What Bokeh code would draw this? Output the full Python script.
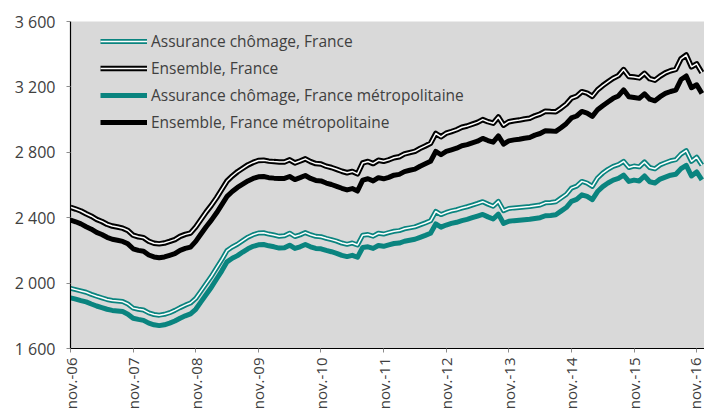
import math
from bokeh.plotting import figure
from bokeh.models import FixedTicker, Range1d, Legend, LegendItem
from bokeh.embed import file_html
from bokeh.resources import INLINE

# Month index: 0 = nov. 2006 ... 121 = dec. 2016
months = list(range(122))

x_ticks = [0, 12, 24, 36, 48, 60, 72, 84, 96, 108, 120]
x_tick_labels = ["nov.-06", "nov.-07", "nov.-08", "nov.-09", "nov.-10", "nov.-11",
                 "nov.-12", "nov.-13", "nov.-14", "nov.-15", "nov.-16"]
y_ticks = [1600, 2000, 2400, 2800, 3200, 3600]
y_tick_labels = ["1 600", "2 000", "2 400", "2 800", "3 200", "3 600"]

series_labels = ["Assurance chômage, France", "Ensemble, France",
                 "Assurance chômage, France métropolitaine", "Ensemble, France métropolitaine"]

ens_france = [2464, 2453, 2441, 2424, 2409, 2390, 2377, 2360, 2349, 2343, 2336, 2322,
              2293, 2283, 2278, 2256, 2244, 2240, 2245, 2255, 2266, 2286, 2298, 2306,
              2343, 2389, 2435, 2476, 2522, 2573, 2624, 2655, 2681, 2702, 2723, 2738,
              2750, 2752, 2746, 2743, 2741, 2741, 2754, 2735, 2747, 2760, 2743, 2731,
              2728, 2715, 2707, 2696, 2684, 2675, 2683, 2668, 2735, 2744, 2731, 2751,
              2745, 2754, 2767, 2773, 2790, 2798, 2806, 2824, 2839, 2855, 2915, 2895,
              2917, 2927, 2938, 2953, 2961, 2972, 2983, 3000, 2987, 2978, 3016, 2966,
              2987, 2993, 2997, 3004, 3008, 3023, 3034, 3051, 3049, 3048, 3070, 3095,
              3131, 3143, 3171, 3162, 3142, 3182, 3208, 3231, 3253, 3269, 3306, 3264,
              3260, 3255, 3283, 3250, 3241, 3266, 3286, 3299, 3307, 3372, 3395, 3323,
              3341, 3288]

ens_metro = [2386, 2375, 2362, 2345, 2330, 2310, 2297, 2280, 2268, 2262, 2255, 2240,
             2210, 2200, 2195, 2172, 2160, 2155, 2160, 2170, 2180, 2200, 2212, 2220,
             2255, 2300, 2345, 2385, 2430, 2480, 2530, 2560, 2585, 2605, 2625, 2640,
             2650, 2652, 2645, 2642, 2640, 2640, 2652, 2633, 2645, 2658, 2640, 2628,
             2625, 2612, 2603, 2592, 2580, 2570, 2578, 2563, 2630, 2638, 2625, 2645,
             2638, 2647, 2660, 2665, 2682, 2690, 2697, 2715, 2730, 2745, 2805, 2785,
             2805, 2815, 2825, 2840, 2847, 2858, 2868, 2885, 2872, 2862, 2900, 2850,
             2870, 2876, 2880, 2886, 2890, 2905, 2915, 2932, 2930, 2928, 2950, 2975,
             3010, 3022, 3050, 3040, 3020, 3060, 3085, 3108, 3130, 3145, 3182, 3140,
             3135, 3130, 3158, 3125, 3115, 3140, 3160, 3172, 3180, 3245, 3267, 3195,
             3213, 3160]

ac_france = [1968, 1960, 1952, 1944, 1931, 1920, 1910, 1900, 1894, 1891, 1887, 1872,
             1847, 1840, 1835, 1818, 1808, 1804, 1809, 1819, 1833, 1850, 1865, 1878,
             1906, 1951, 1997, 2042, 2093, 2143, 2199, 2221, 2238, 2260, 2281, 2296,
             2306, 2308, 2300, 2294, 2286, 2289, 2305, 2285, 2295, 2309, 2296, 2286,
             2284, 2274, 2266, 2257, 2245, 2237, 2245, 2233, 2293, 2297, 2287, 2305,
             2300, 2309, 2317, 2321, 2332, 2338, 2344, 2356, 2368, 2381, 2438, 2419,
             2432, 2442, 2449, 2459, 2467, 2477, 2487, 2498, 2483, 2470, 2500, 2443,
             2456, 2460, 2463, 2466, 2468, 2473, 2478, 2491, 2493, 2497, 2520, 2542,
             2581, 2593, 2622, 2612, 2592, 2643, 2673, 2696, 2714, 2725, 2745, 2707,
             2716, 2711, 2741, 2707, 2699, 2723, 2736, 2748, 2755, 2789, 2810, 2745,
             2770, 2722]

ac_metro = [1910, 1902, 1893, 1885, 1872, 1860, 1850, 1840, 1833, 1830, 1826, 1810,
            1785, 1778, 1772, 1755, 1745, 1740, 1745, 1755, 1768, 1785, 1800, 1812,
            1840, 1885, 1930, 1975, 2025, 2075, 2130, 2152, 2168, 2190, 2210, 2225,
            2234, 2236, 2228, 2222, 2214, 2216, 2232, 2212, 2222, 2236, 2222, 2212,
            2210, 2200, 2192, 2182, 2170, 2162, 2170, 2158, 2218, 2222, 2212, 2230,
            2225, 2234, 2242, 2245, 2256, 2262, 2268, 2280, 2292, 2305, 2362, 2342,
            2355, 2365, 2372, 2382, 2390, 2400, 2410, 2420, 2405, 2392, 2422, 2365,
            2378, 2382, 2385, 2388, 2390, 2395, 2400, 2412, 2414, 2418, 2440, 2462,
            2500, 2512, 2540, 2530, 2510, 2560, 2590, 2612, 2630, 2640, 2660, 2622,
            2630, 2625, 2655, 2620, 2612, 2636, 2648, 2660, 2666, 2700, 2720, 2655,
            2680, 2632]

TEAL = "#0A847F"
TEXT = "#404040"
FONT = "Open Sans"

p = figure(width=704, height=412, output_backend="svg", toolbar_location=None,
           x_range=Range1d(0, 121.5), y_range=Range1d(1600, 3600),
           min_border_left=70, min_border_right=0, min_border_top=21, min_border_bottom=62)

p.background_fill_color = "#D9D9D9"
p.border_fill_color = "white"
p.outline_line_color = None
p.xgrid.grid_line_color = None
p.ygrid.grid_line_color = None

# series
r_af_out = p.line(months, ac_france, line_color=TEAL, line_width=5, line_join="round")
r_af_in = p.line(months, ac_france, line_color="white", line_width=1.5, line_join="round")
r_ef_out = p.line(months, ens_france, line_color="black", line_width=5.5, line_join="round")
r_ef_in = p.line(months, ens_france, line_color="white", line_width=1.5, line_join="round")
r_am = p.line(months, ac_metro, line_color=TEAL, line_width=5, line_join="round")
r_em = p.line(months, ens_metro, line_color="black", line_width=5, line_join="round")

legend = Legend(items=[
    LegendItem(label=series_labels[0], renderers=[r_af_out, r_af_in]),
    LegendItem(label=series_labels[1], renderers=[r_ef_out, r_ef_in]),
    LegendItem(label=series_labels[2], renderers=[r_am]),
    LegendItem(label=series_labels[3], renderers=[r_em]),
], location=(30, 215))
legend.background_fill_alpha = 0
legend.border_line_color = None
legend.padding = 0
legend.margin = 0
legend.spacing = 5
legend.glyph_width = 47
legend.glyph_height = 20
legend.label_height = 20
legend.label_standoff = 4
legend.label_text_font = FONT
legend.label_text_font_size = "15.5px"
legend.label_text_color = TEXT
p.add_layout(legend, "center")

# axes
for ax in (p.xaxis[0], p.yaxis[0]):
    ax.axis_line_color = "black"
    ax.axis_line_width = 1.2
    ax.major_tick_line_color = "#8C8C8C"
    ax.major_tick_out = 4
    ax.major_tick_in = 0
    ax.minor_tick_line_color = None
    ax.major_label_text_font = FONT
    ax.major_label_text_color = TEXT

p.yaxis.ticker = FixedTicker(ticks=y_ticks)
p.yaxis.major_label_overrides = {t: l for t, l in zip(y_ticks, y_tick_labels)}
p.yaxis.major_label_text_font_size = "16px"
p.yaxis.major_label_standoff = 11

p.xaxis.ticker = FixedTicker(ticks=x_ticks)
p.xaxis.major_label_overrides = {t: l for t, l in zip(x_ticks, x_tick_labels)}
p.xaxis.major_label_text_font_size = "15px"
p.xaxis.major_label_orientation = math.pi / 2
p.xaxis.major_label_standoff = 5

open("out.html", "w").write(file_html(p, INLINE))
